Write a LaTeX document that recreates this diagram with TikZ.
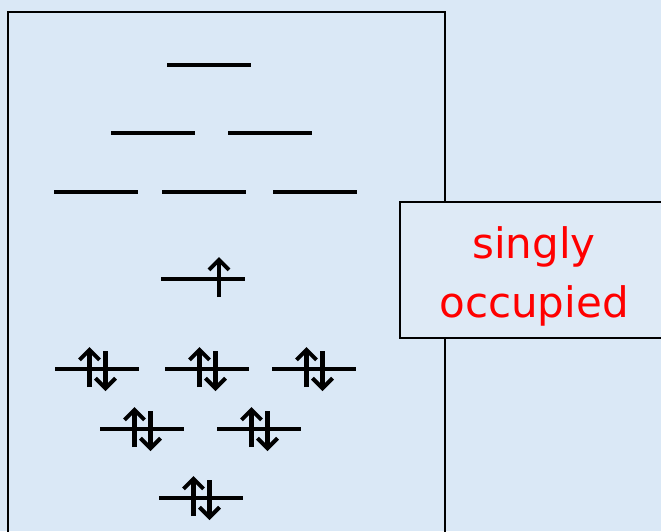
\documentclass[tikz,border=0pt]{standalone}
\usepackage{fontspec}
\setmainfont{DejaVu Sans}
\usetikzlibrary{arrows.meta}
\definecolor{bg}{RGB}{218,232,246}
\definecolor{boxbg}{RGB}{222,234,246}
\definecolor{txtred}{RGB}{255,0,0}
\tikzset{
  lvl/.style={line width=4pt},
  spin/.style={line width=4.2pt,-{Straight Barb[length=10pt,width=20pt,line width=4pt]}},
  frame/.style={draw=black,line width=1.5pt},
  empty level/.pic={\draw[lvl] (-42,0) -- (42,0);},
  single level/.pic={\draw[lvl] (-42,0) -- (42,0); \draw[spin] (16,18) -- (16,-22);},
  paired level/.pic={\draw[lvl] (-42,0) -- (42,0);
     \draw[spin] (-7.5,18) -- (-7.5,-22);
     \draw[spin] (8.5,-18) -- (8.5,22);}
}
\begin{document}
\begin{tikzpicture}[x=1pt,y=-1pt]
\fill[bg] (0,0) rectangle (661,531);
\useasboundingbox (0,0) rectangle (661,531);
\draw[frame] (8,12) rectangle (445,560);
% empty levels
\pic at (209,65) {empty level};
\pic at (153,133) {empty level};
\pic at (270,133) {empty level};
\pic at (96,192) {empty level};
\pic at (204,192) {empty level};
\pic at (315,192) {empty level};
% singly occupied
\pic at (203,279) {single level};
% paired
\pic at (97,369) {paired level};
\pic at (207,369) {paired level};
\pic at (314,369) {paired level};
\pic at (142,429) {paired level};
\pic at (259,429) {paired level};
\pic at (201,498) {paired level};
% label box
\draw[frame,fill=boxbg] (400,202) rectangle (680,338);
\node[text=txtred,align=center,font=\fontsize{42}{59}\selectfont] (label) at (534,276) {singly\\occupied};
\end{tikzpicture}
\end{document}
